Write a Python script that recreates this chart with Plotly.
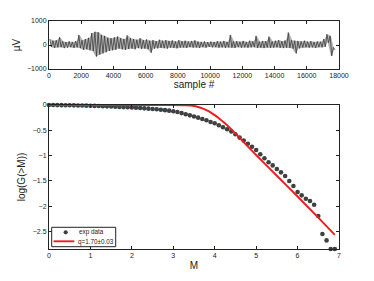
import plotly.graph_objects as go

# ---- top panel: EEG trace envelope (per 200-sample bin) ----
bin_start = list(range(0, 17800, 200))
upper_uv = [250, 180, 200, 320, 150, 120, 150, 130, 160, 420,
            200, 250, 300, 500, 550, 530, 420, 380, 300, 280,
            320, 350, 280, 250, 400, 280, 250, 220, 280, 200,
            230, 180, 200, 160, 220, 180, 200, 170, 190, 150,
            200, 160, 180, 150, 170, 190, 140, 130, 150, 120,
            140, 130, 160, 140, 170, 130, 420, 150, 160, 140,
            170, 130, 180, 150, 380, 140, 170, 160, 350, 150,
            180, 200, 160, 190, 520, 200, 180, 170, 150, 180,
            140, 160, 130, 150, 140, 250, 450, 380, -100]
lower_uv = [-80, -120, -100, -90, -130, -110, -90, -120, -100, -130,
            -200, -180, -220, -250, -480, -400, -350, -300, -250, -220,
            -200, -150, -180, -200, -170, -150, -180, -130, -160, -150,
            -170, -320, -150, -140, -120, -130, -150, -110, -120, -140,
            -110, -100, -120, -90, -110, -100, -120, -90, -110, -80,
            -100, -90, -110, -100, -120, -100, -110, -120, -90, -110,
            -100, -120, -100, -90, -120, -110, -130, -100, -120, -110,
            -100, -120, -130, -110, -120, -150, -350, -140, -100, -90,
            -110, -100, -120, -90, -100, -80, 100, -460, -200]

# ---- bottom panel ----
M_exp = [round(0.1 * i, 1) for i in range(70)]
logG_exp = [0, -0.001, -0.002, -0.003, -0.004, -0.005, -0.007, -0.009, -0.011, -0.013,
            -0.015, -0.018, -0.021, -0.024, -0.027, -0.030, -0.034, -0.038, -0.042, -0.046,
            -0.050, -0.055, -0.060, -0.066, -0.072, -0.078, -0.085, -0.093, -0.102, -0.112,
            -0.125, -0.140, -0.160, -0.183, -0.205, -0.228, -0.250, -0.276, -0.302, -0.335,
            -0.362, -0.400, -0.440, -0.480, -0.522, -0.580, -0.645, -0.705, -0.766, -0.825,
            -0.890, -0.975, -1.055, -1.133, -1.195, -1.268, -1.333, -1.406, -1.505, -1.604,
            -1.722, -1.788, -1.855, -1.900, -1.974, -2.198, -2.554, -2.680, -2.850, -2.850]

M_fit = [0, 1.0, 2.0, 3.0, 3.3, 3.5, 3.6, 3.7, 3.8, 3.9, 4.0, 4.1, 4.2, 4.3, 4.4, 4.5,
         4.75, 5.0, 5.5, 6.0, 6.5, 6.9]
logG_fit = [0, 0, 0, 0, -0.005, -0.02, -0.04, -0.065, -0.10, -0.145, -0.20, -0.26,
            -0.33, -0.40, -0.48, -0.56, -0.78, -0.99, -1.40, -1.81, -2.23, -2.57]

legend_labels = ["exp data", "q=1.70±0.03"]

# zig-zag through the envelope to mimic the dense trace
xs, ys = [], []
for s, u, l in zip(bin_start, upper_uv, lower_uv):
    xs += [s + 50, s + 150]
    ys += [u, l]
# envelope polygon
poly_x = [s + 100 for s in bin_start] + [s + 100 for s in bin_start][::-1]
poly_y = upper_uv + lower_uv[::-1]

fig = go.Figure()
fig.add_trace(go.Scatter(x=poly_x, y=poly_y, mode="lines", fill="toself",
                         fillcolor="rgba(120,120,120,0.55)", line=dict(width=0),
                         showlegend=False, hoverinfo="skip", xaxis="x", yaxis="y"))
fig.add_trace(go.Scatter(x=xs, y=ys, mode="lines", line=dict(color="#353535", width=0.75),
                         showlegend=False, xaxis="x", yaxis="y"))
fig.add_trace(go.Scatter(x=M_exp, y=logG_exp, mode="markers", name=legend_labels[0],
                         marker=dict(color="#404040", size=4.6), cliponaxis=False,
                         showlegend=False, xaxis="x2", yaxis="y2"))
fig.add_trace(go.Scatter(x=M_fit, y=logG_fit, mode="lines", name=legend_labels[1],
                         line=dict(color="#ee1c1c", width=1.9, shape="spline", smoothing=0.6),
                         showlegend=False, xaxis="x2", yaxis="y2"))

axis_common = dict(showline=True, linecolor="#222", linewidth=1, mirror="ticks",
                   ticks="inside", ticklen=3, tickcolor="#222", showgrid=False,
                   zeroline=False, automargin=False, tickfont=dict(size=7, color="#222"))

# hand-drawn legend (box, swatches, labels) in paper coordinates
def px(X):
    return (X - 49) / 290.0

def py(Y):
    return (249 - Y) / 228.0

shapes = [
    dict(type="rect", xref="paper", yref="paper", x0=px(51.7), x1=px(115.7),
         y0=py(246.7), y1=py(227.3), line=dict(color="#222", width=1), fillcolor="white",
         layer="above"),
    dict(type="circle", xref="paper", yref="paper", x0=px(63.6), x1=px(67.8),
         y0=py(234.4), y1=py(230.2), line=dict(width=0), fillcolor="#404040", layer="above"),
    dict(type="line", xref="paper", yref="paper", x0=px(53.5), x1=px(74.3),
         y0=py(241.3), y1=py(241.3), line=dict(color="#ee1c1c", width=1.9), layer="above"),
]
annotations = [
    dict(xref="paper", yref="paper", x=px(76.5), y=py(232.4), text=legend_labels[0],
         showarrow=False, xanchor="left", yanchor="middle", font=dict(size=6.3, color="#222")),
    dict(xref="paper", yref="paper", x=px(75.8), y=py(241.6), text=legend_labels[1],
         showarrow=False, xanchor="left", yanchor="middle", font=dict(size=6.3, color="#222")),
]

fig.update_layout(
    width=374, height=281,
    margin=dict(l=49, r=35, t=21, b=32),
    paper_bgcolor="white", plot_bgcolor="white",
    font=dict(family="Liberation Sans, Arial, sans-serif", color="#222"),
    showlegend=False, hovermode=False,
    shapes=shapes, annotations=annotations,
    xaxis=dict(domain=[0, 1], anchor="y", range=[0, 18000], tickvals=list(range(0, 18001, 2000)),
               tickformat="d",
               title=dict(text="sample #", font=dict(size=10), standoff=1), **axis_common),
    yaxis=dict(domain=[0.7895, 1], anchor="x", range=[-1000, 1000], tickvals=[-1000, 0, 1000],
               tickformat="d",
               title=dict(text="µV", font=dict(size=10), standoff=4), **axis_common),
    xaxis2=dict(domain=[0, 1], anchor="y2", range=[0, 7], tickvals=list(range(0, 8)),
                title=dict(text="M", font=dict(size=10), standoff=3), **axis_common),
    yaxis2=dict(domain=[0, 0.6316], anchor="x2", range=[-2.85, 0],
                tickvals=[0, -0.5, -1, -1.5, -2, -2.5],
                title=dict(text="log(G(>M))", font=dict(size=10), standoff=5), **axis_common),
)

fig.write_html("out.html", config={"displayModeBar": False, "staticPlot": True},
               post_script="document.body.style.margin='0';document.body.style.padding='0';")
